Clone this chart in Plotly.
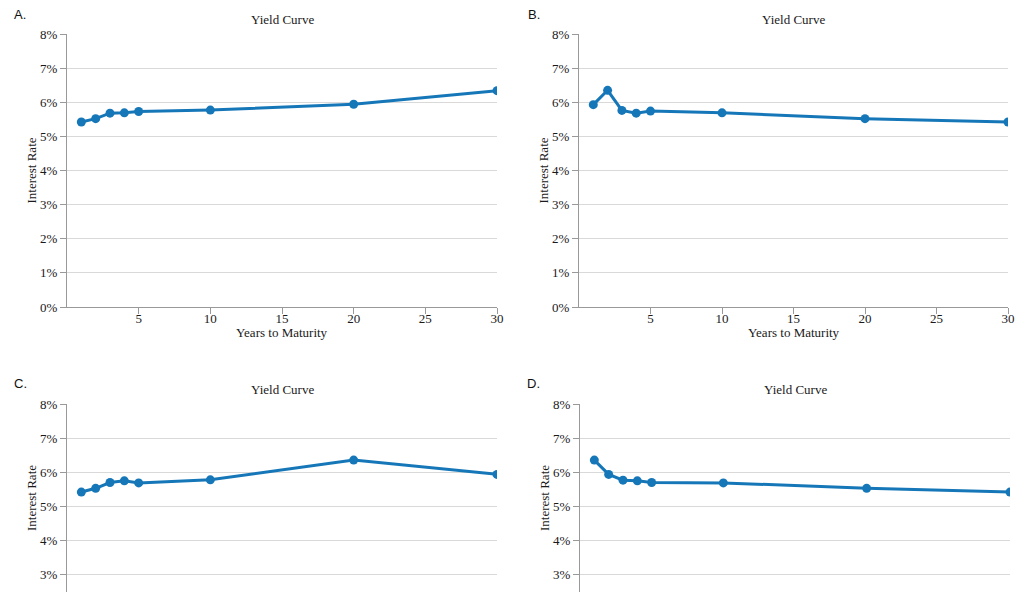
import plotly.graph_objects as go

# ---------------- data ----------------
maturity = [1, 2, 3, 4, 5, 10, 20, 30]
rates_a = [5.42, 5.52, 5.68, 5.69, 5.73, 5.77, 5.94, 6.34]
rates_b = [5.93, 6.35, 5.76, 5.68, 5.74, 5.69, 5.52, 5.42]
rates_c = [5.41, 5.52, 5.69, 5.74, 5.68, 5.77, 6.35, 5.93]
rates_d = [6.35, 5.93, 5.76, 5.74, 5.69, 5.68, 5.52, 5.41]
panel_letters = ["A.", "B.", "C.", "D."]
chart_title = "Yield Curve"
x_title = "Years to Maturity"
y_title = "Interest Rate"
x_ticks = [5, 10, 15, 20, 25, 30]
y_ticks_top = [0, 1, 2, 3, 4, 5, 6, 7, 8]
y_ticks_bottom = [3, 4, 5, 6, 7, 8]

# ---------------- layout ----------------
W, H = 1024, 607
LINE = "#1677b8"
SERIF = "Liberation Serif"
SANS = "Liberation Sans"
TXT = "#1a1a1a"

def px_x(p):
    return p / W

def px_y(p):
    return 1 - p / H

# (left, right, top, bottom) in pixels
panels = [
    (67, 497, 34, 307),
    (579, 1008, 34, 307),
    (67, 497, 404, 592),
    (580, 1010, 404, 592),
]
series = [rates_a, rates_b, rates_c, rates_d]
letter_pos = [(12, 14), (526, 14), (12, 383), (525, 383)]

fig = go.Figure()
annotations = []
for i, ((l, r, t, b), ys) in enumerate(zip(panels, series)):
    n = "" if i == 0 else str(i + 1)
    fig.add_trace(go.Scatter(
        x=maturity, y=ys, mode="lines+markers",
        line=dict(color=LINE, width=3),
        marker=dict(color=LINE, size=9),
        xaxis="x" + n, yaxis="y" + n, showlegend=False,
        hovertemplate="%{x} yrs: %{y:.2f}%<extra></extra>",
    ))
    top_row = i < 2
    if top_row:
        yrange = [0, 8]
        yticks = y_ticks_top
    else:
        yrange = [8 - (b - t) / 34.0, 8]
        yticks = y_ticks_bottom
    xa = dict(
        domain=[px_x(l), px_x(r)], range=[0, 30], anchor="y" + n,
        showgrid=False, zeroline=False, automargin=False,
        tickfont=dict(family=SERIF, size=13, color=TXT),
        tickvals=x_ticks, ticktext=[str(v) for v in x_ticks],
    )
    if top_row:
        xa.update(showline=True, linecolor="#999", linewidth=1,
                  ticks="outside", ticklen=6, tickcolor="#999",
                  ticklabelstandoff=-7)
        annotations.append(dict(
            text=x_title, xref="paper", yref="paper",
            x=px_x((l + r) / 2), y=px_y(332), xanchor="center", yanchor="middle",
            showarrow=False, font=dict(family=SERIF, size=13, color=TXT),
        ))
    else:
        xa.update(showline=False, showticklabels=False, ticks="")
    ya = dict(
        domain=[px_y(b), px_y(t)], range=yrange, anchor="x" + n,
        tickvals=yticks, ticktext=[f"{v}%" for v in yticks],
        showgrid=True, gridcolor="#d9d9d9", gridwidth=1,
        zeroline=False, automargin=False,
        showline=True, linecolor="#999", linewidth=1,
        ticks="outside", ticklen=6, tickcolor="#999",
        tickfont=dict(family=SERIF, size=13, color=TXT),
        title=dict(text=y_title, standoff=0,
                   font=dict(family=SERIF, size=13, color=TXT)),
    )
    fig.update_layout(**{"xaxis" + n: xa, "yaxis" + n: ya})
    annotations.append(dict(
        text=chart_title, xref="paper", yref="paper",
        x=px_x((l + r) / 2), y=px_y(t - 15), xanchor="center", yanchor="middle",
        showarrow=False, font=dict(family=SERIF, size=13, color=TXT),
    ))
    lx, ly = letter_pos[i]
    annotations.append(dict(
        text=panel_letters[i], xref="paper", yref="paper",
        x=px_x(lx), y=px_y(ly), xanchor="left", yanchor="middle",
        showarrow=False, font=dict(family=SANS, size=13, color="#111"),
    ))

fig.update_layout(
    width=W, height=H,
    margin=dict(l=0, r=0, t=0, b=0, pad=0),
    paper_bgcolor="white", plot_bgcolor="white",
    annotations=annotations,
)

fig.write_html(
    "out.html",
    config={"displayModeBar": False},
    post_script="document.body.style.margin='0';document.body.style.overflow='hidden';",
)
